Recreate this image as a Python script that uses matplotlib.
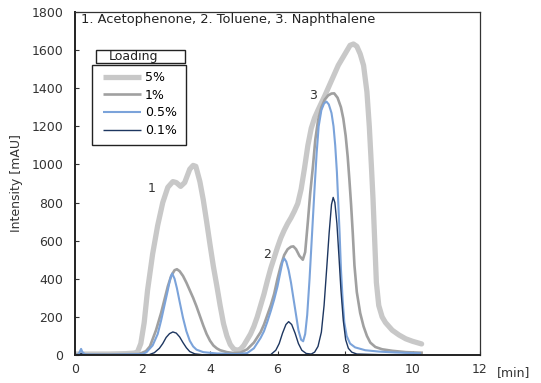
import matplotlib
matplotlib.use('Agg')
import matplotlib.pyplot as plt
from matplotlib.patches import Rectangle

plt.rcParams['font.family'] = ['DejaVu Sans']

# Chromatogram readings: time [min] / intensity [mAU]
t_5 = [0, 0.5, 1.0, 1.5, 1.75, 1.85, 1.95, 2.05, 2.15, 2.3, 2.45, 2.6, 2.75, 2.9, 3.0,
       3.13, 3.25, 3.4, 3.5, 3.58, 3.7, 3.8, 3.9, 4.0, 4.1, 4.2, 4.3, 4.4, 4.5, 4.6,
       4.7, 4.8, 4.9, 5.0, 5.1, 5.2, 5.3, 5.4, 5.5, 5.6, 5.7, 5.8, 5.9, 6.0, 6.1, 6.2,
       6.3, 6.4, 6.5, 6.6, 6.7, 6.8, 6.9, 7.0, 7.1, 7.2, 7.4, 7.6, 7.8, 8.0, 8.15,
       8.25, 8.35, 8.45, 8.55, 8.65, 8.72, 8.78, 8.83, 8.88, 8.93, 9.0, 9.1, 9.2, 9.4,
       9.6, 9.8, 10.0, 10.27]
y_5 = [5, 5, 5, 7, 10, 15, 60, 170, 340, 530, 680, 800, 880, 910, 905,
       885, 905, 975, 995, 990, 910, 815, 700, 580, 465, 365, 260, 165, 100, 55,
       32, 25, 30, 50, 80, 110, 150, 200, 260, 320, 390, 455, 510, 565, 615, 655,
       690, 720, 755, 795, 870, 980, 1100, 1190, 1245, 1285, 1360, 1440, 1520, 1580, 1625,
       1632, 1620, 1580, 1520, 1380, 1200, 1000, 820, 600, 380, 260, 200, 170, 130,
       105, 85, 72, 58]

t_1 = [0, 1.0, 1.9, 2.1, 2.22, 2.4, 2.55, 2.65, 2.75, 2.85, 2.95, 3.02, 3.1, 3.2, 3.3,
       3.4, 3.5, 3.6, 3.7, 3.8, 3.9, 4.0, 4.1, 4.2, 4.3, 4.5, 4.7, 4.9, 5.1, 5.3, 5.5,
       5.6, 5.7, 5.8, 5.9, 6.0, 6.1, 6.2, 6.3, 6.4, 6.47, 6.55, 6.65, 6.75, 6.82, 6.9,
       6.97, 7.05, 7.12, 7.2, 7.3, 7.4, 7.5, 7.6, 7.68, 7.78, 7.88, 7.95, 8.02, 8.08,
       8.13, 8.18, 8.23, 8.28, 8.35, 8.45, 8.55, 8.65, 8.75, 8.9, 9.1, 9.4, 9.8, 10.27]
y_1 = [3, 3, 5, 20, 45, 130, 220, 290, 360, 415, 445, 450, 440, 415, 380,
       340, 300, 255, 205, 155, 110, 75, 50, 35, 25, 15, 10, 12, 30, 65, 120,
       160, 210, 260, 320, 400, 470, 525, 555, 568, 570, 555, 520, 500, 540, 700,
       850, 990, 1130, 1230, 1300, 1340, 1362, 1372, 1373, 1350, 1300, 1240, 1150, 1040,
       920, 790, 640, 470, 330, 220, 150, 100, 65, 42, 30, 22, 15, 12]

t_05 = [0, 0.1, 0.15, 0.18, 0.22, 0.3, 1.0, 2.0, 2.12, 2.3, 2.45, 2.55, 2.65, 2.75,
        2.82, 2.88, 2.95, 3.02, 3.1, 3.2, 3.3, 3.4, 3.5, 3.6, 3.8, 4.2, 4.8, 5.1, 5.3,
        5.5, 5.6, 5.7, 5.8, 5.9, 6.0, 6.08, 6.15, 6.2, 6.26, 6.33, 6.4, 6.47, 6.55,
        6.62, 6.7, 6.76, 6.82, 6.88, 6.95, 7.0, 7.05, 7.1, 7.16, 7.22, 7.3, 7.38, 7.45,
        7.52, 7.6, 7.66, 7.71, 7.76, 7.8, 7.84, 7.88, 7.93, 7.98, 8.05, 8.15, 8.3, 8.6,
        9.0, 9.5, 10.22]
y_05 = [0, 3, 20, 32, 15, 3, 2, 5, 15, 50, 110, 180, 260, 340,
        400, 428, 400, 350, 280, 195, 125, 75, 45, 28, 15, 8, 5, 10, 35,
        90, 125, 175, 230, 290, 360, 430, 490, 507, 490, 445, 380, 300, 210,
        130, 80, 72, 110, 210, 400, 560, 720, 880, 1060, 1200, 1285, 1320, 1330,
        1315, 1270, 1200, 1100, 960, 800, 640, 450, 290, 170, 100, 60, 40, 25,
        18, 13, 9]

t_01 = [0, 0.15, 0.18, 0.22, 1.0, 2.2, 2.35, 2.5, 2.6, 2.7, 2.8, 2.9, 3.0, 3.1, 3.2,
        3.3, 3.4, 3.55, 3.8, 5.8, 5.95, 6.05, 6.15, 6.25, 6.33, 6.42, 6.52, 6.62, 6.72,
        6.85, 7.0, 7.1, 7.2, 7.3, 7.38, 7.46, 7.53, 7.6, 7.65, 7.7, 7.76, 7.82, 7.88,
        7.95, 8.02, 8.1, 8.2, 8.35, 9.0, 10.27]
y_01 = [0, 2, 8, 2, 0, 2, 12, 35, 60, 92, 112, 121, 115, 95, 65,
        38, 18, 6, 1, 2, 25, 60, 115, 160, 175, 160, 115, 60, 25,
        8, 5, 15, 45, 120, 260, 460, 640, 790, 827, 800, 690, 520, 340,
        180, 80, 35, 15, 5, 2, 1]

loadings = ['5%', '1%', '0.5%', '0.1%']
peak_labels = ['1', '2', '3']
peak_pos = [(2.28, 876), (5.69, 530), (7.05, 1364)]

fig = plt.figure(figsize=(5.41, 3.83), dpi=100)
ax = fig.add_axes([75/541, 1 - 355/383, 405/541, 343/383])

ax.plot(t_5, y_5, color='#c8c8c8', lw=3.8, solid_capstyle='round', label=loadings[0])
ax.plot(t_1, y_1, color='#a0a0a0', lw=1.9, label=loadings[1])
ax.plot(t_05, y_05, color='#7ba3da', lw=1.5, label=loadings[2])
ax.plot(t_01, y_01, color='#1d3660', lw=1.0, label=loadings[3])

for lab, (px, py) in zip(peak_labels, peak_pos):
    ax.text(px, py, lab, ha='center', va='center', fontsize=9, color='#333333')

ax.set_xlim(0, 12)
ax.set_ylim(0, 1800)
ax.set_xticks(range(0, 13, 2))
ax.set_yticks(range(0, 1801, 200))
ax.tick_params(direction='in', length=3, labelsize=9, colors='#333333')
ax.tick_params(axis='x', pad=6)
ax.tick_params(axis='y', pad=8.5)
ax.set_ylabel('Intensity [mAU]', fontsize=9, color='#333333', labelpad=6)

for s in ['left', 'bottom']:
    ax.spines[s].set_linewidth(1.4)
    ax.spines[s].set_color('#222222')
for s in ['top', 'right']:
    ax.spines[s].set_linewidth(0.9)
    ax.spines[s].set_color('#333333')

ax.text(0.015, 0.977, '1. Acetophenone, 2. Toluene, 3. Naphthalene',
        transform=ax.transAxes, ha='left', va='center', fontsize=9.4, color='#222222')
ax.text(1.042, -0.05, '[min]', transform=ax.transAxes, ha='left', va='center',
        fontsize=9, color='#333333')

# "Loading" header box above the legend
ax.add_patch(Rectangle((21/405, 292/343), 89/405, 13/343, transform=ax.transAxes,
                       fill=False, edgecolor='#222222', lw=1.0, clip_on=False))
ax.text(59/405, 298.5/343, 'Loading', transform=ax.transAxes, ha='center',
        va='center', fontsize=9, color='#222222')

# legend frame drawn by hand so its padding matches
ax.add_patch(Rectangle((17/405, 210/343), 94/405, 80/343, transform=ax.transAxes,
                       fill=False, edgecolor='#222222', lw=1.0, clip_on=False))
leg = ax.legend(loc='upper left', bbox_to_anchor=(28/405, 284/343), borderaxespad=0,
                frameon=False, fontsize=9, handlelength=3.0, handletextpad=0.35,
                labelspacing=0.38, borderpad=0)
for h in leg.get_lines():
    h.set_solid_capstyle('butt')

fig.savefig('out.png', dpi=100)
